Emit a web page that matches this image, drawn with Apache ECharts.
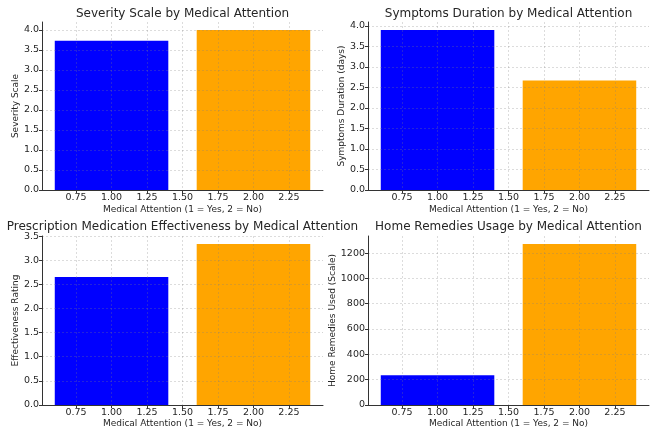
<!DOCTYPE html>
<html><head><meta charset="utf-8">
<script src="https://cdn.jsdelivr.net/npm/echarts@6/dist/echarts.min.js"></script>
<style>html,body{margin:0;padding:0;background:#fff}#c{width:663px;height:434px}</style>
</head><body><div id="c"></div>
<script>
// ---- data ----
const groups = [1, 2];
const xTicks = [0.75, 1.00, 1.25, 1.50, 1.75, 2.00, 2.25];
const severity = [3.73, 4.0];
const duration = [3.9, 2.67];
const effectiveness = [2.65, 3.335];
const homeRemedies = [234, 1271];
const severityTicks = [0, 0.5, 1.0, 1.5, 2.0, 2.5, 3.0, 3.5, 4.0];
const durationTicks = [0, 0.5, 1.0, 1.5, 2.0, 2.5, 3.0, 3.5, 4.0];
const effectivenessTicks = [0, 0.5, 1.0, 1.5, 2.0, 2.5, 3.0, 3.5];
const homeTicks = [0, 200, 400, 600, 800, 1000, 1200];
const titles = [
  'Severity Scale by Medical Attention',
  'Symptoms Duration by Medical Attention',
  'Prescription Medication Effectiveness by Medical Attention',
  'Home Remedies Usage by Medical Attention'
];
const yNames = ['Severity Scale', 'Symptoms Duration (days)', 'Effectiveness Rating', 'Home Remedies Used (Scale)'];
const xName = 'Medical Attention (1 = Yes, 2 = No)';
const barColors = ['#0000FF', '#FFA500'];

// ---- layout ----
const FONT = 'DejaVu Sans';
const TXT = '#262626';
const panels = [
  {vals: severity, ticks: severityTicks, dec: 1, grid: {left: 42, top: 22, width: 281, height: 168}, gap: 22, xGap: 15.5, tTop: 8},
  {vals: duration, ticks: durationTicks, dec: 1, grid: {left: 368, top: 22, width: 281, height: 168}, gap: 20, xGap: 15.5, tTop: 8},
  {vals: effectiveness, ticks: effectivenessTicks, dec: 1, grid: {left: 42, top: 236, width: 281, height: 169}, gap: 22, xGap: 14, tTop: 221},
  {vals: homeRemedies, ticks: homeTicks, dec: 0, grid: {left: 368, top: 236, width: 281, height: 169}, gap: 30, xGap: 14, tTop: 221}
];
const barW = 0.8;
const xMin = 1 - barW / 2 - 0.05 * (1 + barW);
const xMax = 2 + barW / 2 + 0.05 * (1 + barW);

const grid = [], xAxis = [], yAxis = [], series = [], title = [];
panels.forEach((p, i) => {
  grid.push(Object.assign({containLabel: false}, p.grid));
  const yMax = Math.max(...p.vals) * 1.05;
  const lineStyle = {color: '#333', width: 1};
  const split = {show: true, lineStyle: {color: 'rgba(128,128,128,0.35)', width: 0.8, type: [2, 2]}};
  xAxis.push({
    type: 'value', gridIndex: i, min: xMin, max: xMax,
    name: xName, nameLocation: 'middle', nameGap: p.xGap,
    nameTextStyle: {fontFamily: FONT, fontSize: 9, color: TXT},
    axisLine: {show: true, lineStyle},
    axisTick: {show: true, length: 3, lineStyle, customValues: xTicks},
    axisLabel: {fontFamily: FONT, fontSize: 9.5, color: TXT, margin: 3,
      customValues: xTicks, formatter: v => v.toFixed(2)},
    splitLine: split
  });
  yAxis.push({
    type: 'value', gridIndex: i, min: 0, max: yMax,
    name: yNames[i], nameLocation: 'middle', nameGap: p.gap, nameRotate: 90,
    nameTextStyle: {fontFamily: FONT, fontSize: 9, color: TXT},
    axisLine: {show: true, lineStyle},
    axisTick: {show: true, length: 3, lineStyle, customValues: p.ticks},
    axisLabel: {fontFamily: FONT, fontSize: 9.5, color: TXT, margin: 3,
      customValues: p.ticks, formatter: v => v.toFixed(p.dec)},
    splitLine: split
  });
  series.push({
    type: 'custom', xAxisIndex: i, yAxisIndex: i, z: -1,
    data: groups.map((g, k) => [g, p.vals[k]]),
    renderItem: (params, api) => {
      const x = api.value(0), y = api.value(1);
      const a = api.coord([x - barW / 2, y]);
      const b = api.coord([x + barW / 2, 0]);
      return {type: 'rect', shape: {x: a[0], y: a[1], width: b[0] - a[0], height: b[1] - a[1]},
        style: {fill: barColors[params.dataIndex]}};
    }
  });
  title.push({
    text: titles[i], left: p.grid.left + p.grid.width / 2, textAlign: 'center',
    top: p.tTop, padding: 0,
    textStyle: {fontFamily: FONT, fontSize: 12, fontWeight: 'normal', color: TXT}
  });
});

const chart = echarts.init(document.getElementById('c'), null, {renderer: 'canvas'});
chart.setOption({animation: false, backgroundColor: '#fff', title, grid, xAxis, yAxis, series});
</script>
</body></html>
